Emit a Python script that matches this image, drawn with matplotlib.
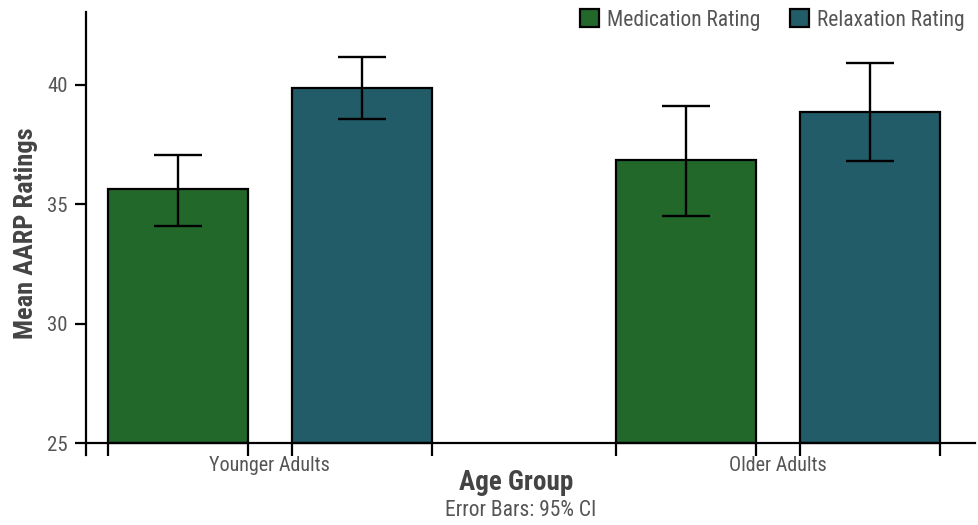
import matplotlib.pyplot as plt
import numpy as np

# Mean AARP ratings per age group with 95% CI bounds
groups = ['Younger Adults', 'Older Adults']
series = ['Medication Rating', 'Relaxation Rating']
means = {'Medication Rating': [35.65, 36.85], 'Relaxation Rating': [39.85, 38.85]}
ci_low = {'Medication Rating': [34.1, 34.5], 'Relaxation Rating': [38.55, 36.8]}
ci_high = {'Medication Rating': [37.05, 39.1], 'Relaxation Rating': [41.15, 40.9]}
colors = {'Medication Rating': '#22682a', 'Relaxation Rating': '#225c68'}

plt.rcParams['font.family'] = ['Roboto Condensed', 'Liberation Sans Narrow', 'Roboto', 'DejaVu Sans']

fig = plt.figure(figsize=(9.79, 5.25), dpi=100)
ax = fig.add_axes([0.0878, 1 - 455 / 525, 0.996 - 0.0878, (455 - 12) / 525])

x = np.arange(len(groups))
width = 0.276
offsets = [-0.181, 0.181]
base = 25
edges = []
for s, off in zip(series, offsets):
    m = np.array(means[s])
    lo = m - np.array(ci_low[s])
    hi = np.array(ci_high[s]) - m
    ax.bar(x + off, m - base, width, bottom=base, color=colors[s],
           edgecolor='black', linewidth=1.6, label=s, zorder=2)
    ax.errorbar(x + off, m, yerr=[lo, hi], fmt='none', ecolor='black',
                elinewidth=1.7, capsize=17, capthick=1.7, zorder=3)
    edges += list(x + off - width / 2) + list(x + off + width / 2)

ax.set_xlim(-0.362, 1.388)
ax.set_ylim(24.5, 43.05)
ax.spines['bottom'].set_position(('data', base))
ax.spines['top'].set_visible(False)
ax.spines['right'].set_visible(False)
for sp in ['left', 'bottom']:
    ax.spines[sp].set_linewidth(1.6)

ax.set_yticks([25, 30, 35, 40])
ax.tick_params(axis='y', length=8, width=1.6, labelsize=15, labelcolor='#555555', pad=5)

ax.set_xticks(x)
ax.set_xticklabels(groups)
ax.set_xticks(sorted(edges), minor=True)
ax.tick_params(axis='x', which='major', length=0, labelsize=14.5, labelcolor='#555555', pad=9)
ax.tick_params(axis='x', which='minor', length=9, width=1.6, direction='out')

ax.set_ylabel('Mean AARP Ratings', fontsize=19, fontweight='bold', color='#444444', labelpad=7)
fig.text(0.527, 1 - 483 / 525, 'Age Group', ha='center', va='center',
         fontsize=19.5, fontweight='bold', color='#444444')
fig.text(0.532, 1 - 511 / 525, 'Error Bars: 95% CI', ha='center', va='center',
         fontsize=15.5, color='#555555')

leg = ax.legend(loc='upper right', bbox_to_anchor=(1.01, 1.05), ncol=2, frameon=False,
                fontsize=15.5, handlelength=0.9, handleheight=0.9, columnspacing=1.4,
                handletextpad=0.35, labelcolor='#555555')

fig.savefig('out.png', dpi=100)
